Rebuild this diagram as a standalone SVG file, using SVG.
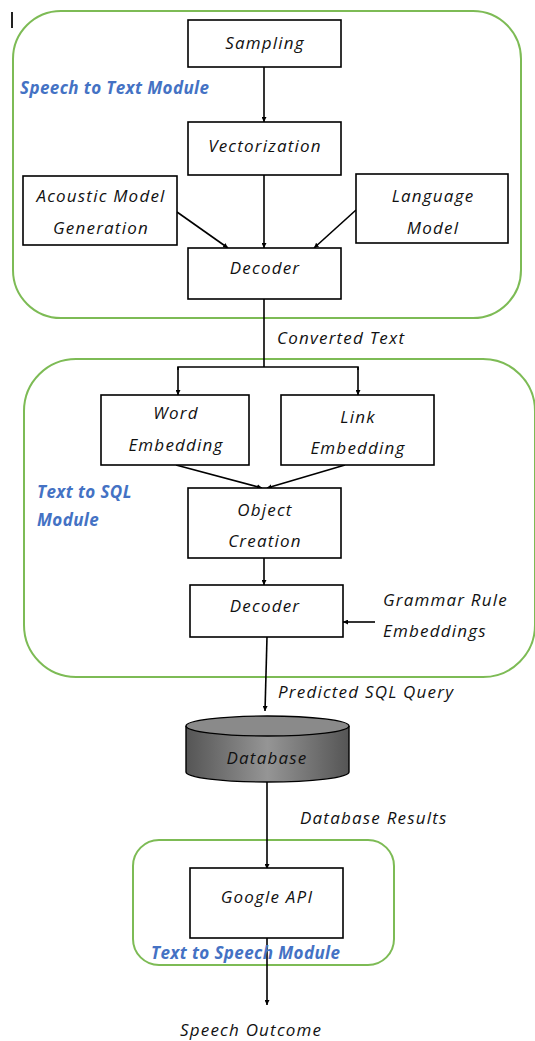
<svg xmlns="http://www.w3.org/2000/svg" width="535" height="1041" viewBox="0 0 535 1041">
<style>
.grp{fill:none;stroke:#7dbb55;stroke-width:2}
.box{fill:#fff;stroke:#000;stroke-width:1.6}
.t{font-family:"Open Sans","Noto Sans",sans-serif;font-style:italic;font-size:17px;letter-spacing:1.2px;fill:#111;text-anchor:middle}
.tl{font-family:"Open Sans","Noto Sans",sans-serif;font-style:italic;font-size:17px;letter-spacing:1.2px;fill:#111}
.mod{font-family:"Open Sans","Noto Sans",sans-serif;font-style:italic;font-weight:bold;font-size:17px;fill:#4472c4;letter-spacing:0.4px}
.ln{fill:none;stroke:#000;stroke-width:1.6}
</style>
<defs>
<marker id="ah" viewBox="0 0 10 10" refX="10" refY="5" markerWidth="5" markerHeight="5" orient="auto" markerUnits="userSpaceOnUse">
<path d="M0,0 L10,5 L0,10 z" fill="#000"/>
</marker>
<linearGradient id="dbg" x1="0" y1="0" x2="1" y2="0">
<stop offset="0" stop-color="#555"/>
<stop offset="0.5" stop-color="#959595"/>
<stop offset="1" stop-color="#555"/>
</linearGradient>
</defs>
<rect x="11" y="12" width="2" height="16" fill="#222"/>
<g id="groups">
<rect class="grp" x="13" y="11" width="508" height="307" rx="48"/>
<rect class="grp" x="24" y="359" width="511" height="318" rx="52"/>
<rect class="grp" x="133" y="840" width="261" height="125" rx="26"/>
<text class="mod" x="20" y="94">Speech to Text Module</text>
<text class="mod" x="37" y="498">Text to SQL</text>
<text class="mod" x="37" y="526">Module</text>
</g>
<g id="connectors">
<line class="ln" x1="264" y1="67" x2="264" y2="122" marker-end="url(#ah)"/>
<line class="ln" x1="264" y1="175" x2="264" y2="248" marker-end="url(#ah)"/>
<line class="ln" x1="177" y1="212" x2="228" y2="248" marker-end="url(#ah)"/>
<line class="ln" x1="356" y1="210" x2="314" y2="248" marker-end="url(#ah)"/>
<polyline class="ln" points="264,299 264,367"/>
<polyline class="ln" points="178,370 178,367 358,367 358,370"/>
<line class="ln" x1="178" y1="367" x2="178" y2="395" marker-end="url(#ah)"/>
<line class="ln" x1="358" y1="367" x2="358" y2="395" marker-end="url(#ah)"/>
<line class="ln" x1="176" y1="465" x2="262" y2="488" marker-end="url(#ah)"/>
<line class="ln" x1="345" y1="465" x2="267" y2="488" marker-end="url(#ah)"/>
<line class="ln" x1="264" y1="558" x2="264" y2="585" marker-end="url(#ah)"/>
<line class="ln" x1="375" y1="622" x2="343" y2="622" marker-end="url(#ah)"/>
<line class="ln" x1="267" y1="637" x2="265" y2="711" marker-end="url(#ah)"/>
<line class="ln" x1="267" y1="782" x2="267" y2="869" marker-end="url(#ah)"/>
<line class="ln" x1="267" y1="938" x2="267" y2="1005" marker-end="url(#ah)"/>
<text class="tl" x="277" y="344">Converted Text</text>
<text class="tl" x="278" y="698">Predicted SQL Query</text>
<text class="tl" x="300" y="824">Database Results</text>
<text class="tl" x="180" y="1036">Speech Outcome</text>
<text class="tl" x="383" y="606">Grammar Rule</text>
<text class="tl" x="383" y="637">Embeddings</text>
</g>
<g id="sampling"><rect class="box" x="188" y="20" width="153" height="47"/><text class="t" x="265" y="49">Sampling</text></g>
<g id="vectorization"><rect class="box" x="188" y="122" width="153" height="53"/><text class="t" x="265" y="152">Vectorization</text></g>
<g id="acoustic"><rect class="box" x="23" y="176" width="154" height="69"/><text class="t" x="101" y="202">Acoustic Model</text><text class="t" x="101" y="234">Generation</text></g>
<g id="language"><rect class="box" x="356" y="174" width="152" height="69"/><text class="t" x="433" y="202">Language</text><text class="t" x="433" y="234">Model</text></g>
<g id="decoder1"><rect class="box" x="188" y="248" width="153" height="51"/><text class="t" x="265" y="274">Decoder</text></g>
<g id="word"><rect class="box" x="101" y="395" width="148" height="70"/><text class="t" x="176" y="419">Word</text><text class="t" x="176" y="451">Embedding</text></g>
<g id="link"><rect class="box" x="281" y="395" width="153" height="70"/><text class="t" x="358" y="423">Link</text><text class="t" x="358" y="454">Embedding</text></g>
<g id="object"><rect class="box" x="188" y="488" width="153" height="70"/><text class="t" x="265" y="516">Object</text><text class="t" x="265" y="547">Creation</text></g>
<g id="decoder2"><rect class="box" x="190" y="585" width="153" height="52"/><text class="t" x="265" y="612">Decoder</text></g>
<g id="database">
<path d="M186,726 L186,772 A81.5,10 0 0 0 349,772 L349,726" fill="url(#dbg)" stroke="#000" stroke-width="1.4"/>
<ellipse cx="267.5" cy="726" rx="81.5" ry="10" fill="#8a8a8a" stroke="#000" stroke-width="1.4"/>
<text class="t" x="267" y="764">Database</text>
</g>
<g id="google"><rect class="box" x="190" y="868" width="153" height="70"/><text class="t" x="267" y="903">Google API</text></g>
<text class="mod" x="151" y="959">Text to Speech Module</text>
</svg>
